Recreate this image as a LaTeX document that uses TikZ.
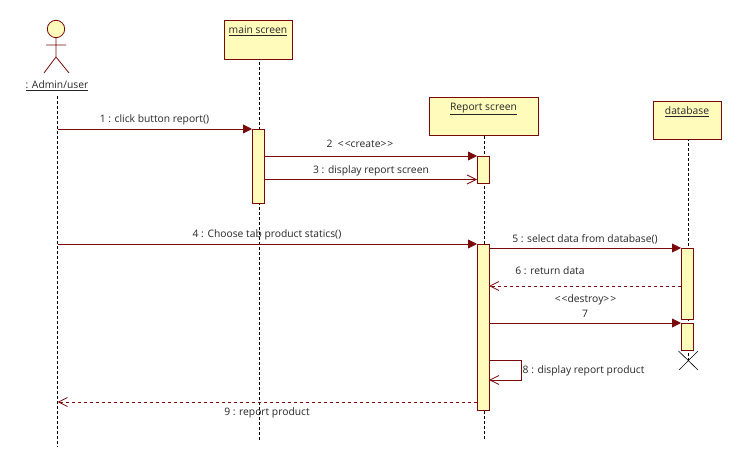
\documentclass[tikz,border=0pt]{standalone}
\usepackage{fontspec}
\setmainfont{Open Sans}
\usepackage{xcolor}
\usepackage{tikz}
\usetikzlibrary{positioning,arrows.meta}

\definecolor{umlline}{HTML}{7A0A0A}
\definecolor{umlfill}{HTML}{FFFBBB}

\tikzset{
  objbox/.style={draw=umlline,fill=umlfill,line width=.9pt,minimum height=38pt,inner sep=0pt,outer sep=0pt},
  bar/.style={draw=umlline,fill=umlfill,line width=.9pt,minimum width=12pt,inner sep=0pt,outer sep=0pt},
  life/.style={densely dashed,line width=.8pt,black},
  msg/.style={draw=umlline,line width=.9pt,-{Triangle[length=9pt,width=9pt]}},
  reply/.style={draw=umlline,line width=.8pt,-{Straight Barb[length=9pt,width=9pt]}},
  txt/.style={font=\fontsize{10.3}{12}\selectfont,inner sep=0pt,text=black!85}
}

\begin{document}
\begin{tikzpicture}[x=1pt,y=-1pt]
  \useasboundingbox (0,0) rectangle (742,470);
  % lifelines
  \coordinate (adminend) at (57.5,447);
  \coordinate (adminstart) at (57.5,96);
  \coordinate (mainend) at (259.5,440);
  \coordinate (reportend) at (484.5,439);
  \coordinate (dbend) at (688.5,361);
  \node[objbox,minimum width=68pt,minimum height=39pt] (mainbox) at (258,39.5) {};
  \node[objbox,minimum width=109pt] (reportbox) at (483.5,116) {};
  \node[objbox,minimum width=68pt] (dbbox) at (687,120) {};
  \draw[life] (adminstart) -- (adminend);
  \draw[life] (mainend) -- (mainend |- mainbox.south);
  \draw[life] (reportend) -- (reportend |- reportbox.south);
  \draw[life] (dbend) -- (dbend |- dbbox.south);
  \node[txt,below=5.5pt of mainbox.north] (maintext) {\underline{main screen}};
  \node[txt,below=5.5pt of reportbox.north] (reporttext) {\underline{Report screen}};
  \node[txt,below=5.5pt of dbbox.north] (dbtext) {\underline{database}};
  % actor
  \draw[draw=umlline,fill=umlfill,line width=.8pt] (56,29) circle (8.7);
  \draw[umlline,line width=.8pt] (56,38) -- (56,57) (46,45) -- (66,45) (44,73) -- (56,57) -- (69,73);
  \node[txt] (admintext) at (57,86) {\underline{: Admin/user}};
  % activation bars
  \node[bar,minimum height=74pt] (mainbar) at (258,166) {};
  \node[bar,minimum height=27pt] (reportbara) at (483,169.5) {};
  \node[bar,minimum height=166pt] (reportbarb) at (483,327) {};
  \node[bar,minimum height=71pt] (dbbara) at (687,283.5) {};
  \node[bar,minimum height=27pt] (dbbarb) at (687,336.5) {};
  % destroy mark
  \coordinate (crossa) at (678.5,351);
  \coordinate (crossb) at (698,370);
  \coordinate (crossc) at (698,351);
  \coordinate (crossd) at (679,370);
  \draw[black,line width=.6pt] (crossa) -- (crossb) (crossc) -- (crossd);
  % messages
  \coordinate (adminone) at (57.5,129);
  \coordinate (adminfour) at (57.5,244);
  \coordinate (adminnine) at (57.5,402);
  \coordinate (mainthree) at (264,179.5);
  \coordinate (reportthree) at (477,179.5);
  \coordinate (reportfive) at (489,248);
  \coordinate (dbsix) at (681,286);
  \coordinate (reportsix) at (489,286);
  \coordinate (reportseven) at (489,323);
  \coordinate (selfa) at (489,360);
  \coordinate (selfb) at (521,360);
  \coordinate (selfc) at (521,380);
  \coordinate (selfd) at (489,380);
  \coordinate (reportnine) at (477,402);
  \draw[msg] (adminone) -- (mainbar.north west);
  \draw[msg] (mainbar.east |- reportbara.north) -- (reportbara.north west);
  \draw[reply] (mainthree) -- (reportthree);
  \draw[msg] (adminfour) -- (reportbarb.north west);
  \draw[msg] (reportfive) -- (dbbara.north west);
  \draw[reply,dashed] (dbsix) -- (reportsix);
  \draw[msg] (reportseven) -- (dbbarb.north west);
  \draw[reply] (selfa) -- (selfb) -- (selfc) -- (selfd);
  \draw[reply,dashed] (reportnine) -- (adminnine);
  % labels
  \node[txt] (msgone) at (154.5,120) {1 : click button report()};
  \node[txt] (msgtwo) at (360,144) {2 \ {<}\kern1pt{<}create{>}\kern1pt{>}};
  \node[txt] (msgthree) at (371,170.5) {3 : display report screen};
  \node[txt] (msgfour) at (267,235) {4 : Choose tab product statics()};
  \node[txt] (msgfive) at (585,239) {5 : select data from database()};
  \node[txt] (msgsix) at (550,271) {6 : return data};
  \node[txt] (msgdestroy) at (585.5,299.5) {{<}\kern1pt{<}destroy{>}\kern1pt{>}};
  \node[txt] (msgseven) at (585,314) {7};
  \node[txt,anchor=west] (msgeight) at (522.5,371) {8 : display report product};
  \node[txt] (msgnine) at (267,413) {9 : report product};
\end{tikzpicture}
\end{document}
